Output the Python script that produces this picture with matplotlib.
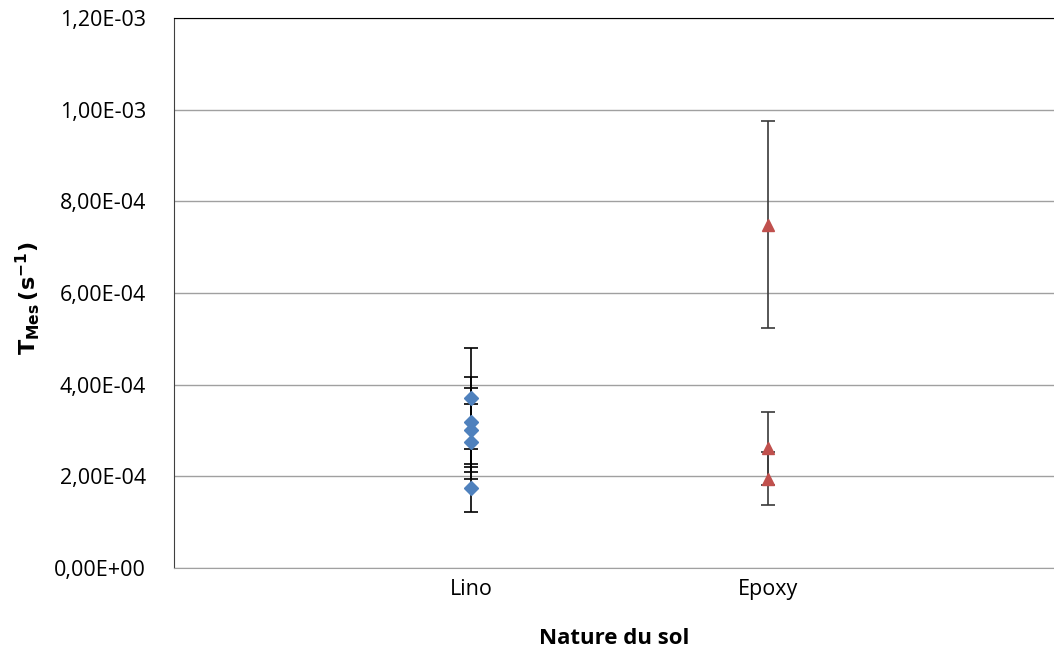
import matplotlib.pyplot as plt
from matplotlib.ticker import FuncFormatter

categories = ["Lino", "Epoxy"]

# Measured values per floor type (s^-1) and their error bars.
lino_vals = [3.70e-4, 3.19e-4, 3.01e-4, 2.755e-4, 1.74e-4]
lino_errs = [1.11e-4, 0.98e-4, 0.91e-4, 0.82e-4, 0.52e-4]
epoxy_vals = [7.49e-4, 2.61e-4, 1.95e-4]
epoxy_errs = [2.26e-4, 0.80e-4, 0.58e-4]

plt.rcParams["font.family"] = ["Open Sans", "DejaVu Sans"]

fig = plt.figure(figsize=(10.54, 6.55), dpi=100)
ax = fig.add_axes([174 / 1054, 1 - 568 / 655, 1 - 174 / 1054, (568 - 18) / 655])

ax.errorbar([1] * len(lino_vals), lino_vals, yerr=lino_errs, fmt="D",
            color="#4F81BD", markersize=7, ecolor="black", elinewidth=1.2,
            capsize=5, capthick=1.2, zorder=3)
ax.errorbar([2] * len(epoxy_vals), epoxy_vals, yerr=epoxy_errs, fmt="^",
            color="#C0504D", markersize=9, ecolor="#3a3a3a", elinewidth=1.2,
            capsize=5, capthick=1.2, zorder=3)

ax.set_xlim(0, (1054 - 174) / 297)
ax.set_ylim(0, 1.2e-3)
ax.set_xticks([1, 2])
ax.set_xticklabels(categories)
ax.set_yticks([i * 2e-4 for i in range(7)])
ax.yaxis.set_major_formatter(FuncFormatter(lambda v, p: f"{v:.2E}".replace(".", ",")))

ax.grid(axis="y", color="#A0A0A0", linewidth=1)
ax.set_axisbelow(True)
ax.spines["right"].set_visible(False)
ax.spines["top"].set_color("black")
ax.spines["left"].set_color("#404040")
ax.spines["bottom"].set_color("#A0A0A0")
ax.tick_params(axis="both", length=0, labelsize=15.5, pad=8)
ax.tick_params(axis="y", pad=20)

ax.set_xlabel("Nature du sol", fontsize=16, fontweight="bold", labelpad=20)
ax.set_ylabel(r"$\mathbf{T_{Mes}\,(s^{-1})}$", fontsize=16)
ax.yaxis.set_label_coords(-0.15, 0.49)

fig.savefig("out.png", dpi=100)
